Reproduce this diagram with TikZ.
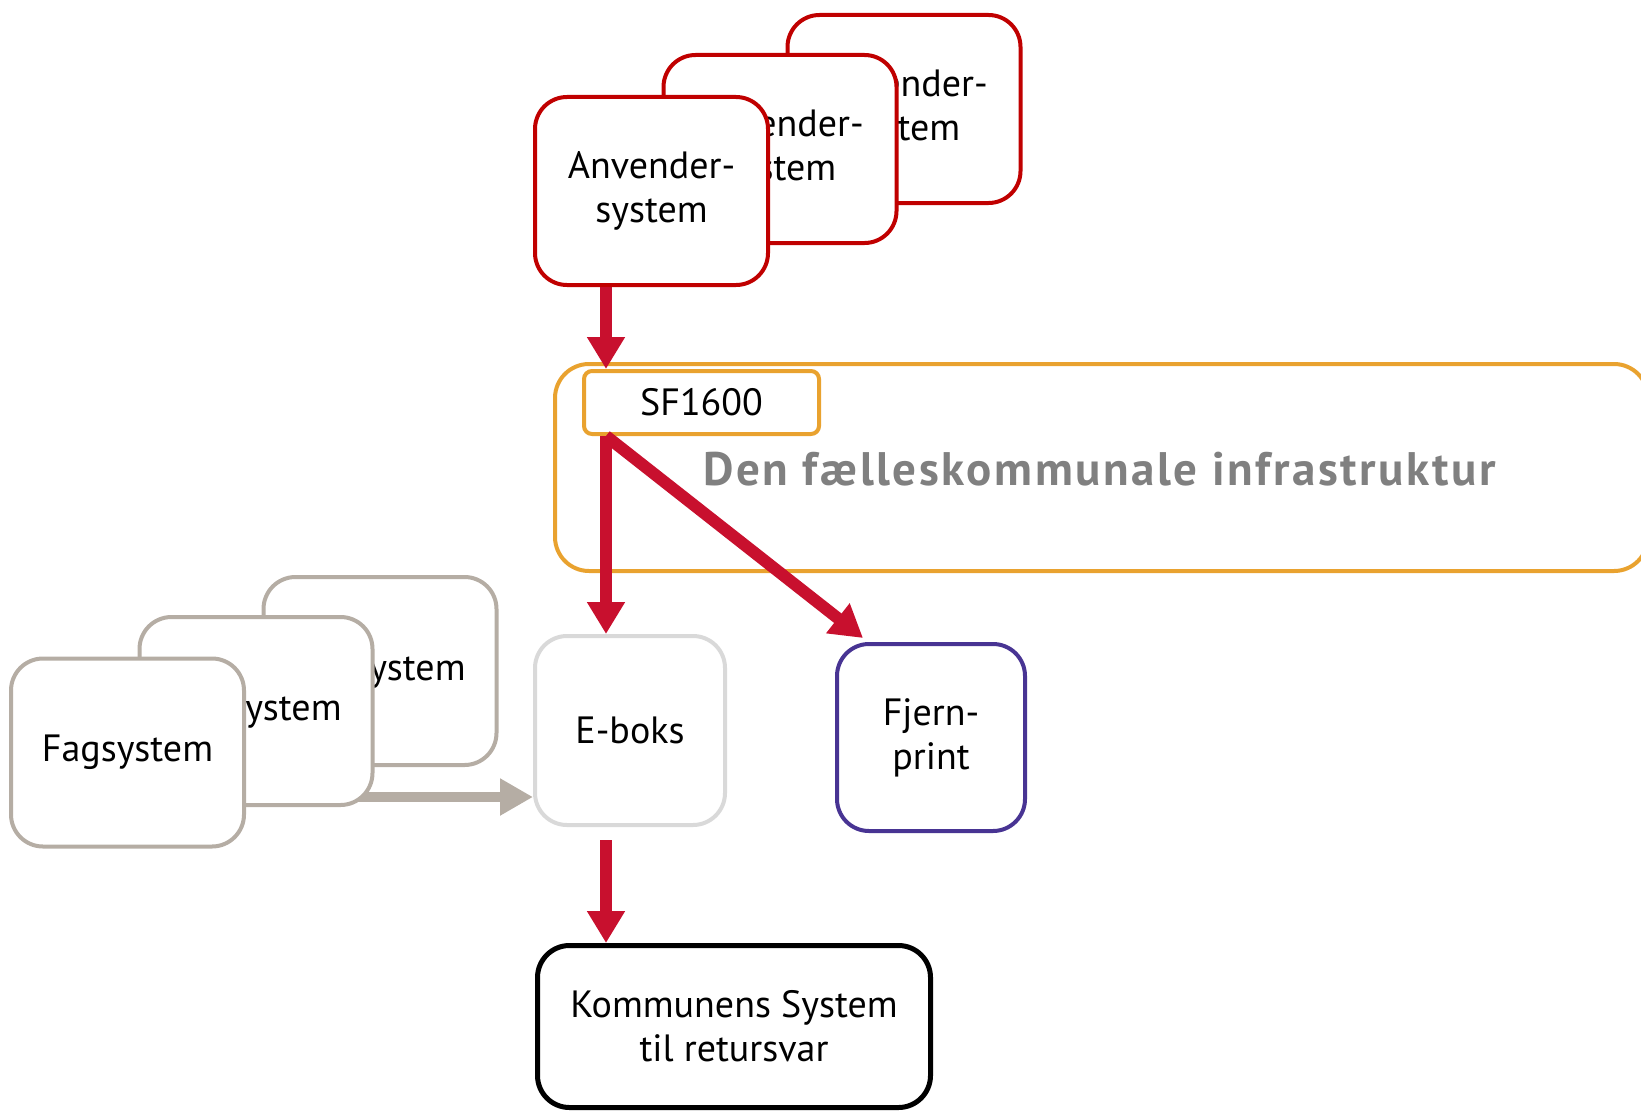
\documentclass[tikz,border=0pt]{standalone}
\usepackage{fontspec}
\setmainfont{PT Sans}
\usepackage{tikz}
\usetikzlibrary{arrows.meta, backgrounds}
\definecolor{anvred}{HTML}{C00000}
\definecolor{arrowred}{HTML}{C8102E}
\definecolor{infraorange}{HTML}{E9A22F}
\definecolor{faggray}{HTML}{B5ADA4}
\definecolor{eboksgray}{HTML}{D9D9D9}
\definecolor{printpurple}{HTML}{483493}
\definecolor{titlegray}{HTML}{808080}

\begin{document}
\begin{tikzpicture}[x=0.5pt, y=-0.5pt,
  sysbox/.style={draw, line width=2pt, fill=white, rounded corners=16pt, align=center,
    minimum width=116.5pt, minimum height=94pt, inner sep=0pt,
    font=\fontsize{19}{22}\selectfont},
  anvbox/.style={sysbox, draw=anvred},
  fagbox/.style={sysbox, draw=faggray},
  flow/.style={arrowred, line width=6pt, -{Triangle[width=18pt, length=16pt]}},
  feed/.style={faggray, line width=5pt, -{Triangle[width=17.5pt, length=16.5pt]}}]
\useasboundingbox (0,0) rectangle (1641,1113);

\node[draw=infraorange, line width=2pt, rounded corners=17pt,
  minimum width=546.5pt, minimum height=103.5pt] (infra) at (1101.5,467.5) {};
\node[anchor=base west, inner sep=0pt, text=titlegray,
  font=\bfseries\fontsize{23.5}{28}\selectfont\addfontfeature{LetterSpace=5.5}] (infratitle) at (703,485)
  {Den fælleskommunale infrastruktur};
\node[draw=infraorange, fill=white, line width=2pt, rounded corners=4pt,
  minimum width=117.5pt, minimum height=31.5pt, font=\fontsize{19}{22}\selectfont]
  (sf) at (701.5,402.5) {SF1600};

\node[anvbox] (anv3) at (904,109) {Anvender-\\system};
\node[anvbox] (anv2) at (780,149) {Anvender-\\system};
\node[anvbox] (anv1) at (651.5,191) {Anvender-\\system};

\node[fagbox] (fag3) at (380,671) {Fagsystem};
\node[fagbox] (fag2) at (256,711) {Fagsystem};
\node[fagbox] (fag1) at (127.5,752.5) {Fagsystem};

\node[sysbox, draw=eboksgray, minimum width=95pt, minimum height=94.5pt] (eboks) at (630,730.5) {E-boks};
\node[sysbox, draw=printpurple, minimum width=94pt, minimum height=93.5pt] (fjern) at (931,737.5) {Fjern-\\print};
\node[sysbox, draw=black, line width=2.5pt, minimum width=196.5pt, minimum height=81pt]
  (komm) at (734,1026.5) {Kommunens System\\til retursvar};

\coordinate (lane) at (606,0);
\coordinate (feedrow) at (0,797);
\draw[flow] (anv1.south -| lane) -- (sf.north -| lane);
\draw[flow] (sf.south -| lane) -- (eboks.north -| lane);
\draw[flow] (sf.south -| lane) -- ([xshift=14pt, yshift=2pt]fjern.north west);
\draw[flow, shorten <=6.5pt] (eboks.south -| lane) -- (komm.north -| lane);
\begin{pgfonlayer}{background}
\draw[feed] (fag2.center |- feedrow) -- (eboks.west |- feedrow);
\end{pgfonlayer}
\end{tikzpicture}
\end{document}
